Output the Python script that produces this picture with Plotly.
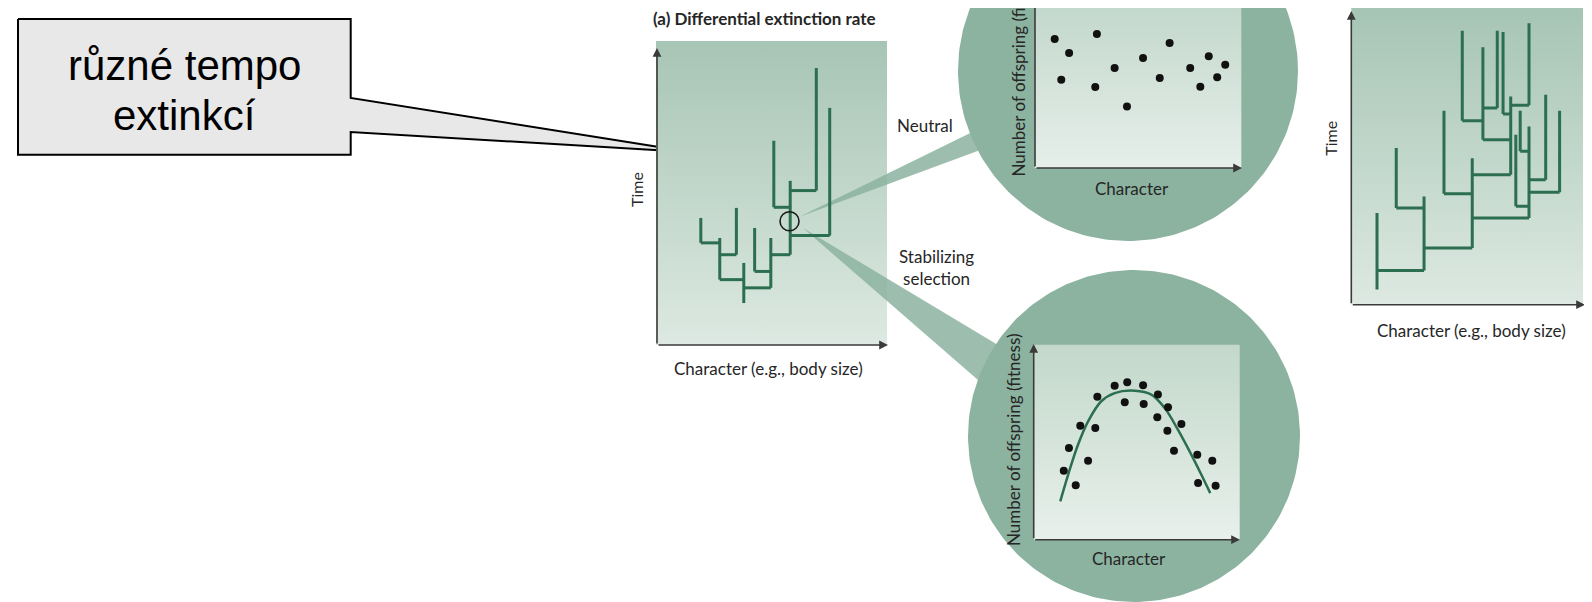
import plotly.graph_objects as go
import numpy as np

W, H = 1592, 602

# ---------------- data ----------------
# Panel (a): differential extinction rate tree (character 0-100, time 0-100)
a_vert_char = [19.4, 27.6, 34.8, 38.0, 42.7, 49.7, 51.0, 58.1, 69.4, 75.2]
a_vert_t0 = [33.6, 21.5, 29.7, 13.8, 24.2, 18.8, 45.3, 29.7, 50.8, 36.0]
a_vert_t1 = [41.8, 35.2, 45.1, 27.0, 38.5, 35.2, 67.2, 54.0, 91.1, 78.0]
a_horz_t = [33.6, 29.7, 21.5, 18.8, 24.2, 29.7, 45.3, 50.8, 36.0]
a_horz_c0 = [19.4, 27.6, 27.6, 38.0, 42.7, 49.7, 51.0, 58.1, 58.1]
a_horz_c1 = [27.6, 34.8, 38.0, 49.7, 49.7, 58.1, 58.1, 69.4, 75.2]
a_focus_char = [57.8]
a_focus_t = [40.7]

# Right panel tree
b_vert_char = [11.1, 31.4, 19.4, 52.2, 40.0, 68.8, 76.7, 83.9, 89.9, 71.0, 72.9, 56.8, 47.9, 63.0, 65.5, 76.7]
b_vert_t0 = [5.1, 11.5, 32.6, 19.1, 37.4, 43.8, 29.2, 42.1, 37.9, 33.2, 51.7, 55.6, 62.0, 66.3, 64.3, 67.2]
b_vert_t1 = [30.9, 36.5, 52.8, 49.4, 65.4, 70.2, 60.1, 70.8, 65.4, 57.3, 65.4, 86.8, 92.3, 92.3, 91.9, 94.9]
b_horz_t = [11.5, 32.6, 19.1, 37.4, 43.8, 29.2, 42.1, 37.9, 33.2, 51.7, 55.6, 62.0, 66.3, 64.3, 67.2]
b_horz_c0 = [11.1, 19.4, 31.4, 40.0, 52.2, 52.2, 76.7, 76.7, 71.0, 72.9, 56.8, 47.9, 56.8, 65.5, 68.8]
b_horz_c1 = [31.4, 31.4, 52.2, 52.2, 68.8, 76.7, 83.9, 89.9, 76.7, 76.7, 68.8, 56.8, 63.0, 68.8, 76.7]

# Neutral: character vs number of offspring
neutral_char = [0.97, 1.67, 1.29, 3.02, 2.94, 3.88, 4.48, 5.26, 6.07, 6.55, 7.55, 8.04, 8.45, 8.86, 9.25]
neutral_fit = [6.62, 5.90, 4.53, 6.87, 4.15, 5.13, 3.16, 5.64, 4.62, 6.41, 5.13, 4.17, 5.73, 4.65, 5.30]

# Stabilizing selection
stab_char = [1.46, 1.71, 2.04, 2.26, 2.64, 2.99, 3.09, 3.93, 4.42, 4.54, 5.31, 5.34, 6.03, 6.00,
             6.52, 6.49, 7.17, 6.81, 7.94, 7.98, 8.67, 8.83]
stab_fit = [3.54, 4.70, 2.79, 5.85, 4.05, 5.73, 7.33, 7.90, 7.05, 8.07, 7.92, 6.96, 7.44, 6.28,
            6.79, 5.59, 5.93, 4.56, 4.36, 2.91, 4.05, 2.77]
curve_char = [1.29, 1.67, 2.15, 2.64, 3.28, 3.93, 4.90, 5.71, 6.36, 7.00, 7.65, 8.14, 8.57]
curve_fit = [1.97, 3.33, 4.87, 6.07, 7.10, 7.52, 7.64, 7.44, 6.75, 5.64, 4.36, 3.33, 2.39]

# ---------------- style ----------------
TREE = "#2c6e50"
CIRC = "#8cb3a0"
TXT = "#262626"
AX = "#3a3a3a"
LAB = dict(family="Lato, Open Sans, sans-serif", size=17, color=TXT)


def dom_x(p0, p1):
    return [p0 / W, p1 / W]


def dom_y(top, bot):
    return [1 - bot / H, 1 - top / H]


def tree_xy(vc, vt0, vt1, ht, hc0, hc1):
    xs, ys = [], []
    for c, t0, t1 in zip(vc, vt0, vt1):
        xs += [c, c, None]
        ys += [t0, t1, None]
    for t, c0, c1 in zip(ht, hc0, hc1):
        xs += [c0, c1, None]
        ys += [t, t, None]
    return xs, ys


fig = go.Figure()

# ---------- decoration layer (pixel coordinates) ----------
def poly(xs, ys, **kw):
    fig.add_trace(go.Scatter(x=xs, y=ys, mode="lines", fill="toself", hoverinfo="skip",
                             showlegend=False, xaxis="x", yaxis="y", **kw))


def grad_box(x0, x1, y0, y1, ctop, cbot):
    poly([x0, x1, x1, x0, x0], [y0, y0, y1, y1, y0],
         line=dict(width=0, color="rgba(0,0,0,0)"),
         fillgradient=dict(type="vertical", colorscale=[[0, ctop], [1, cbot]], start=y0, stop=y1))


# callout
poly([10, 342.7, 342.7, 684, 342.7, 342.7, 10, 10],
     [11, 11, 90, 144.3, 124, 146.7, 146.7, 11],
     fillcolor="#e8e8e8", line=dict(color="#000000", width=2))

# panel backgrounds
grad_box(648, 879, 33, 337, "#a7c5b4", "#dde9e2")
grad_box(1343.3, 1575, -5, 296.7, "#a5c4b3", "#dde9e2")

# wedges
poly([791, 1000, 1000, 791], [209, 106.6, 131.7, 209], fillcolor=CIRC,
     line=dict(width=0, color="rgba(0,0,0,0)"), opacity=0.85)
poly([795, 1000, 1000, 795], [220, 343, 398, 220], fillcolor=CIRC,
     line=dict(width=0, color="rgba(0,0,0,0)"), opacity=0.85)

# magnifier circles
th = np.linspace(0, 2 * np.pi, 241)
for cx, cy, r in [(1120, 63, 170), (1126, 428, 166)]:
    poly(list(cx + r * np.cos(th)), list(cy + r * np.sin(th)), fillcolor=CIRC,
         line=dict(width=0, color="rgba(0,0,0,0)"))

# inner plot backgrounds
grad_box(1026.7, 1233.3, -35, 160, "#bcd3c6", "#e6efea")
grad_box(1025.7, 1231.7, 336.7, 531.7, "#c3d8cb", "#e8f0eb")

# ---------- data panels ----------
ax, ay = tree_xy(a_vert_char, a_vert_t0, a_vert_t1, a_horz_t, a_horz_c0, a_horz_c1)
fig.add_trace(go.Scatter(x=ax, y=ay, mode="lines", line=dict(color=TREE, width=3),
                         showlegend=False, hoverinfo="skip", xaxis="x2", yaxis="y2"))
fig.add_trace(go.Scatter(x=a_focus_char, y=a_focus_t, mode="markers",
                         marker=dict(symbol="circle-open", size=19, color="#1a1a1a",
                                     line=dict(width=1.6, color="#1a1a1a")),
                         showlegend=False, hoverinfo="skip", xaxis="x2", yaxis="y2"))

fig.add_trace(go.Scatter(x=neutral_char, y=neutral_fit, mode="markers",
                         marker=dict(size=8, color="#111111"),
                         showlegend=False, hoverinfo="skip", xaxis="x3", yaxis="y3"))

fig.add_trace(go.Scatter(x=curve_char, y=curve_fit, mode="lines",
                         line=dict(color=TREE, width=2.5, shape="spline"),
                         showlegend=False, hoverinfo="skip", xaxis="x4", yaxis="y4"))
fig.add_trace(go.Scatter(x=stab_char, y=stab_fit, mode="markers",
                         marker=dict(size=8, color="#111111"),
                         showlegend=False, hoverinfo="skip", xaxis="x4", yaxis="y4"))

bx, by = tree_xy(b_vert_char, b_vert_t0, b_vert_t1, b_horz_t, b_horz_c0, b_horz_c1)
fig.add_trace(go.Scatter(x=bx, y=by, mode="lines", line=dict(color=TREE, width=3),
                         showlegend=False, hoverinfo="skip", xaxis="x5", yaxis="y5"))

hidden = dict(visible=False, showgrid=False, zeroline=False, fixedrange=True)

fig.update_layout(
    width=W, height=H, margin=dict(l=0, r=0, t=0, b=0),
    paper_bgcolor="white", plot_bgcolor="rgba(0,0,0,0)",
    xaxis=dict(domain=[0, 1], range=[0, W], **hidden),
    yaxis=dict(domain=[0, 1], range=[H, 0], **hidden),
    xaxis2=dict(domain=dom_x(648, 879), range=[0, 100], anchor="y2", **hidden),
    yaxis2=dict(domain=dom_y(33, 337), range=[0, 100], anchor="x2", **hidden),
    xaxis3=dict(domain=dom_x(1026.7, 1233.3), range=[0, 10.03], anchor="y3", **hidden),
    yaxis3=dict(domain=dom_y(0, 160), range=[0, 8.205], anchor="x3", **hidden),
    xaxis4=dict(domain=dom_x(1025.7, 1231.7), range=[0, 10], anchor="y4", **hidden),
    yaxis4=dict(domain=dom_y(336.7, 531.7), range=[0, 10], anchor="x4", **hidden),
    xaxis5=dict(domain=dom_x(1343.3, 1575), range=[0, 100], anchor="y5", **hidden),
    yaxis5=dict(domain=dom_y(0, 296.7), range=[0, 100], anchor="x5", **hidden),
)

ann = []


def arrow(xt, yt, xh, yh, head=2):
    ann.append(dict(x=xh, y=yh, ax=xt, ay=yt, xref="x", yref="y", axref="x", ayref="y",
                    text="", showarrow=True, arrowhead=head, arrowsize=1.1, arrowwidth=1.6,
                    arrowcolor=AX, standoff=0, startstandoff=0))


def label(x, y, text, angle=0, font=LAB, xanchor="center"):
    ann.append(dict(x=x, y=y, xref="x", yref="y", text=text, showarrow=False,
                    textangle=angle, font=font, xanchor=xanchor, yanchor="middle"))


# axes with arrows
arrow(649, 337, 649, 40)
arrow(649, 337, 880, 337)
arrow(1027, 160, 1027, -5, head=0)
arrow(1027, 160, 1234, 160)
arrow(1025.7, 531.7, 1025.7, 336)
arrow(1025.7, 531.7, 1232, 531.7)
arrow(1343.3, 296.7, 1343.3, 3)
arrow(1343.3, 296.7, 1577, 296.7)

# texts
label(643, 10, "<b>(a) Differential extinction rate</b>", font=dict(LAB, size=17), xanchor="left")
label(628, 182, "Time", angle=-90, font=dict(LAB, size=16))
label(760, 360, "Character (e.g., body size)")
label(917, 117, "Neutral")
label(928, 259, "Stabilizing<br>selection")
label(1010, 62.5, "Number of offspring (fitness)", angle=-90)
label(1123.5, 180, "Character")
label(1005, 432, "Number of offspring (fitness)", angle=-90)
label(1121, 550, "Character")
label(1321.7, 130, "Time", angle=-90, font=dict(LAB, size=16))
label(1463.3, 322, "Character (e.g., body size)")

CALL = dict(family="Liberation Sans, Arial, sans-serif", size=42, color="#000000")
label(176.7, 57, "různé tempo", font=CALL)
label(176.7, 107, "extinkcí", font=CALL)

fig.update_layout(annotations=ann)
fig.write_html("out.html")
